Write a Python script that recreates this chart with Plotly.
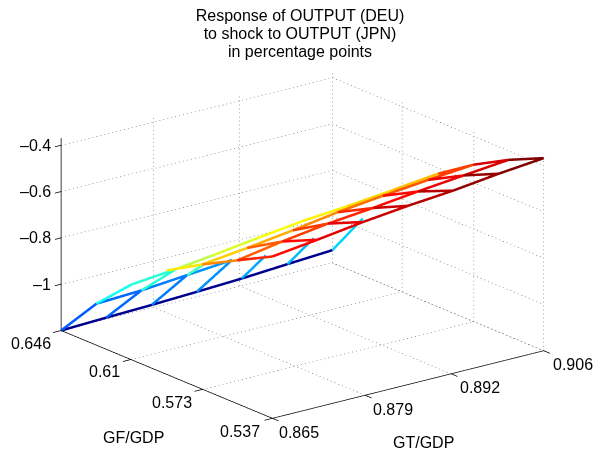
import plotly.graph_objects as go

# ---------- data ----------
GT = [0.8650, 0.8718, 0.8787, 0.8855, 0.8923, 0.8992, 0.9060]
GF = [0.6460, 0.6278, 0.6097, 0.5915, 0.5733, 0.5552, 0.5370]
Z = [
    [-1.200, -1.193, -1.187, -1.179, -1.170, -1.157, -1.145],
    [-1.021, -1.012, -0.995, -0.978, -0.960, -0.944, -0.923],
    [-0.875, -0.856, -0.835, -0.820, -0.800, -0.785, -0.765],
    [-0.751, -0.736, -0.709, -0.684, -0.668, -0.647, -0.625],
    [-0.662, -0.639, -0.612, -0.582, -0.560, -0.540, -0.523],
    [-0.581, -0.548, -0.520, -0.501, -0.478, -0.458, -0.439],
    [-0.501, -0.477, -0.4495, -0.428, -0.411, -0.387, -0.368],
]
GT_TICKS = [0.865, 0.879, 0.892, 0.906]
GF_TICKS = [0.646, 0.610, 0.573, 0.537]
Z_TICKS = [-0.4, -0.6, -0.8, -1.0]
GT_LABELS = ["0.865", "0.879", "0.892", "0.906"]
GF_LABELS = ["0.646", "0.61", "0.573", "0.537"]
Z_LABELS = ["–0.4", "–0.6", "–0.8", "–1"]
TITLE_LINES = ["Response of OUTPUT (DEU)", "to shock to OUTPUT (JPN)", "in percentage points"]

# hidden-line removal of the original mesh: visible part of each edge
ROW_VISIBLE = {0: range(6), 1: range(3), 2: range(1), 3: range(1, 6), 4: range(6), 5: range(6), 6: range(6)}
COL_VISIBLE = {
    0: {0: 1, 1: 1, 2: 1, 3: 1, 4: 0.68, 5: 0.75, 6: 0.86},
    1: {0: 1, 1: 1, 2: 0.48},
    2: {1: 1},
    3: {0: 1, 6: 1},
    4: {0: 1, 1: 1, 2: 1, 3: 1, 4: 1, 5: 1, 6: 1},
    5: {0: 1, 1: 1, 2: 1, 3: 1, 4: 1, 5: 1, 6: 1},
}

# ---------- styling ----------
FONT = "Liberation Sans"
FS = 16
JET = [[0, "rgb(0,0,143)"], [0.125, "rgb(0,0,255)"], [0.375, "rgb(0,255,255)"],
       [0.625, "rgb(255,255,0)"], [0.875, "rgb(255,0,0)"], [1, "rgb(128,0,0)"]]
ZMIN, ZMAX = -1.2, -0.368
GRID = "rgb(70,70,70)"
PAD = 0.03
DOT_PX = 4.0      # period of the dotted grid, in pixels on the page
PX_X, PX_Y, PX_Z = 279.9, 229.3, 193.4   # on-page length of each axis
xr = [GT[0], GT[-1]]
yr = [GF[-1], GF[0]]
zr = [ZMIN, ZMAX]
def padded(r):
    d = (r[1] - r[0]) * PAD
    return [r[0] - d, r[1] + d]

# ---------- mesh edges ----------
mx, my, mz, mc = [], [], [], []
def add_edge(a, b, level, f=1.0):
    ia, ja = a
    ib, jb = b
    x0, y0, z0 = GT[ja], GF[ia], Z[ia][ja]
    x1, y1, z1 = GT[jb], GF[ib], Z[ib][jb]
    mx.extend([x0, x0 + f * (x1 - x0), None])
    my.extend([y0, y0 + f * (y1 - y0), None])
    mz.extend([z0, z0 + f * (z1 - z0), None])
    mc.extend([level, level, level])
for i, js in ROW_VISIBLE.items():
    for j in js:
        add_edge((i, j), (i, j + 1), ZMIN if i == 0 else Z[i][j + 1])
for i, cols in COL_VISIBLE.items():
    for j, f in cols.items():
        add_edge((i, j), (i + 1, j), Z[i + 1][j], f)

# ---------- dotted grid, drawn as short dashes along each grid line ----------
gx, gy, gz = [], [], []
def seg(store, p, q):
    store[0].extend([p[0], q[0], None])
    store[1].extend([p[1], q[1], None])
    store[2].extend([p[2], q[2], None])
g = (gx, gy, gz)
def dotted(p, q):
    lpx = (((q[0] - p[0]) / (xr[1] - xr[0]) * PX_X) ** 2 + ((q[1] - p[1]) / (yr[1] - yr[0]) * PX_Y) ** 2
           + ((q[2] - p[2]) / (zr[1] - zr[0]) * PX_Z) ** 2) ** 0.5
    n = max(1, int(lpx / DOT_PX))
    for k in range(n + 1):
        t0 = k / n
        t1 = min(1.0, t0 + 1.0 / lpx)
        seg(g, tuple(p[m] + t0 * (q[m] - p[m]) for m in range(3)),
            tuple(p[m] + t1 * (q[m] - p[m]) for m in range(3)))
for zt in Z_TICKS:
    dotted((xr[0], yr[1], zt), (xr[1], yr[1], zt))
    dotted((xr[1], yr[1], zt), (xr[1], yr[0], zt))
for xt in GT_TICKS[1:]:
    dotted((xt, yr[1], zr[0]), (xt, yr[1], zr[1]))
    dotted((xt, yr[0], zr[0]), (xt, yr[1], zr[0]))
for yt in GF_TICKS[1:]:
    dotted((xr[1], yt, zr[0]), (xr[1], yt, zr[1]))
    dotted((xr[0], yt, zr[0]), (xr[1], yt, zr[0]))
dotted((xr[0], yr[1], zr[0]), (xr[1], yr[1], zr[0]))
dotted((xr[1], yr[1], zr[0]), (xr[1], yr[0], zr[0]))

# ---------- axes and ticks ----------
ax, ay, az = [], [], []
a = (ax, ay, az)
seg(a, (xr[0], yr[1], zr[0]), (xr[0], yr[1], zr[1]))
seg(a, (xr[0], yr[1], zr[0]), (xr[0], yr[0], zr[0]))
seg(a, (xr[0], yr[0], zr[0]), (xr[1], yr[0], zr[0]))
dx = (xr[1] - xr[0]) * 0.03
dy = (yr[1] - yr[0]) * 0.03
for zt in Z_TICKS:
    seg(a, (xr[0], yr[1], zt), (xr[0] - dx * 0.75, yr[1], zt))
for yt in GF_TICKS:
    seg(a, (xr[0], yt, zr[0]), (xr[0] - dx, yt, zr[0]))
for xt in GT_TICKS:
    seg(a, (xt, yr[0], zr[0]), (xt, yr[0] - dy, zr[0]))

fig = go.Figure()
fig.add_trace(go.Scatter3d(x=gx, y=gy, z=gz, mode="lines", hoverinfo="skip",
                           line=dict(color=GRID, width=1)))
fig.add_trace(go.Scatter3d(x=ax, y=ay, z=az, mode="lines", hoverinfo="skip",
                           line=dict(color="black", width=1.5)))
fig.add_trace(go.Scatter3d(x=mx, y=my, z=mz, mode="lines", hoverinfo="skip",
                           line=dict(color=mc, colorscale=JET, cmin=ZMIN, cmax=ZMAX, width=5)))

# ---------- text ----------
def note(x, y, z, text, xs, ys, anchor="center"):
    return dict(x=x, y=y, z=z, text=text, showarrow=False, xshift=xs, yshift=ys, xanchor=anchor,
                yanchor="middle", font=dict(family=FONT, size=FS, color="black"))
notes = []
for zt, t in zip(Z_TICKS, Z_LABELS):
    notes.append(note(xr[0], yr[1], zt, t, -8, 0, "right"))
for yt, t, s in zip(GF_TICKS, GF_LABELS, [(-30, -12.7), (-26.6, -12), (-31, -12.7), (-32, -13.4)]):
    notes.append(note(xr[0], yt, zr[0], t, s[0], s[1]))
for xt, t, s in zip(GT_TICKS, GT_LABELS, [(27, -13.7), (28, -13.9), (29, -14), (29.2, -14)]):
    notes.append(note(xt, yr[0], zr[0], t, s[0], s[1]))
notes.append(note(xr[0], GF[3], zr[0], "GF/GDP", -33.4, -62.7))
notes.append(note(GT[3], yr[0], zr[0], "GT/GDP", 15.6, -57.8))

title_text = "<br>".join('<span style="font-size:%gpx">%s</span>' % (FS, t) for t in TITLE_LINES)
W, H = 595, 449
R = 1.24
ZOOM = 1.62
CX, CY, CZ = 0.0190, 0.0021, 0.051
axis = dict(visible=False, showgrid=False, zeroline=False, showbackground=False, showspikes=False)
fig.update_layout(
    width=W, height=H,
    margin=dict(l=0, r=0, t=0, b=0),
    paper_bgcolor="white",
    showlegend=False,
    title=dict(text=title_text, x=292 / W, xanchor="center", y=1 - 12.5 / H, yanchor="top",
               font=dict(family=FONT, size=14.2, color="black")),
    scene=dict(
        domain=dict(x=[0, 1], y=[0, 1]),
        xaxis=dict(axis, range=padded(xr)),
        yaxis=dict(axis, range=padded(yr)),
        zaxis=dict(axis, range=padded(zr)),
        aspectmode="manual",
        aspectratio=dict(x=1 * ZOOM, y=1.006 * ZOOM, z=0.593 * ZOOM),
        annotations=notes,
        camera=dict(
            projection=dict(type="orthographic"),
            up=dict(x=0, y=0, z=1),
            center=dict(x=CX, y=CY, z=CZ),
            eye=dict(x=-0.580 * R + CX, y=-0.749 * R + CY, z=0.322 * R + CZ),
        ),
    ),
)
fig.write_html("out.html")
